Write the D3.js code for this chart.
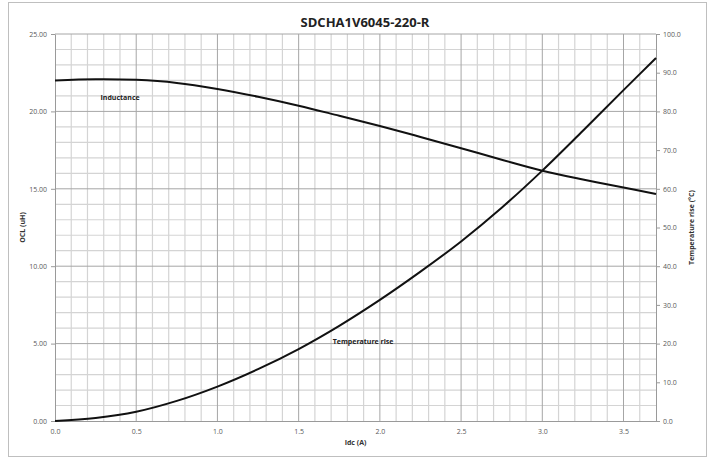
<!DOCTYPE html>
<html>
<head>
<meta charset="utf-8">
<script src="https://cdn.jsdelivr.net/npm/d3@7"></script>
<style>
  body { margin: 0; background: #fff; }
  text { font-family: "Open Sans", "Liberation Sans", sans-serif; }
</style>
</head>
<body>
<div id="chart"></div>
<script>
// current (A) sampled along both curves
const idc = [0, 0.25, 0.5, 0.75, 1.0, 1.25, 1.5, 1.75, 2.0, 2.25, 2.5, 2.75, 3.0, 3.25, 3.5, 3.7];
// OCL (uH)
const inductance = [22.0, 22.08, 22.04, 21.84, 21.45, 20.95, 20.37, 19.72, 19.06, 18.35, 17.62, 16.88, 16.17, 15.6, 15.08, 14.66];
// temperature rise (°C)
const tempRise = [0, 0.8, 2.4, 5.2, 8.9, 13.4, 18.6, 24.6, 31.3, 38.6, 46.4, 55.1, 64.7, 75.0, 85.5, 93.8];

const leftTicks = [0, 5, 10, 15, 20, 25];
const rightTicks = [0, 10, 20, 30, 40, 50, 60, 70, 80, 90, 100];
const xTicks = [0, 0.5, 1.0, 1.5, 2.0, 2.5, 3.0, 3.5];

const width = 713, height = 458;
const m = { left: 55, right: 57, top: 34, bottom: 37 };
const pw = width - m.left - m.right, ph = height - m.top - m.bottom;

const svg = d3.select("#chart").append("svg")
    .attr("width", width)
    .attr("height", height);

// outer frame
svg.append("rect")
    .attr("x", 8.5).attr("y", 2.5)
    .attr("width", 698).attr("height", 454)
    .attr("fill", "#fff")
    .attr("stroke", "#bfbfbf");

svg.append("text")
    .attr("x", 365).attr("y", 27)
    .attr("text-anchor", "middle")
    .attr("font-size", 13)
    .attr("font-weight", "bold")
    .attr("fill", "#222")
    .text("SDCHA1V6045-220-R");

const g = svg.append("g").attr("transform", `translate(${m.left},${m.top})`);

const x = d3.scaleLinear().domain([0, 3.7]).range([0, pw]);
const yL = d3.scaleLinear().domain([0, 25]).range([ph, 0]);
const yR = d3.scaleLinear().domain([0, 100]).range([ph, 0]);

// minor grid
g.append("g").selectAll("line")
    .data(d3.range(1, 37).map(i => i / 10).filter(v => Math.round(v * 10) % 5 !== 0))
    .join("line")
    .attr("x1", d => x(d)).attr("x2", d => x(d))
    .attr("y1", 0).attr("y2", ph)
    .attr("stroke", "#d4d4d4").attr("stroke-width", 1.2);

g.append("g").selectAll("line")
    .data(d3.range(1, 25).filter(v => v % 5 !== 0))
    .join("line")
    .attr("x1", 0).attr("x2", pw)
    .attr("y1", d => yL(d)).attr("y2", d => yL(d))
    .attr("stroke", "#d4d4d4").attr("stroke-width", 1.2);

// major grid
g.append("g").selectAll("line")
    .data(xTicks.slice(1))
    .join("line")
    .attr("x1", d => x(d)).attr("x2", d => x(d))
    .attr("y1", 0).attr("y2", ph)
    .attr("stroke", "#a6a6a6").attr("stroke-width", 1);

g.append("g").selectAll("line")
    .data(leftTicks.slice(1))
    .join("line")
    .attr("x1", 0).attr("x2", pw)
    .attr("y1", d => yL(d)).attr("y2", d => yL(d))
    .attr("stroke", "#a6a6a6").attr("stroke-width", 1);

// axes
const axisStyle = sel => {
    sel.select(".domain").attr("stroke", "#9a9a9a");
    sel.selectAll(".tick line").attr("stroke", "#9a9a9a");
    sel.selectAll(".tick text")
        .attr("fill", "#595959")
        .attr("font-size", 7)
        .attr("font-family", "'Open Sans', 'Liberation Sans', sans-serif");
};

g.append("g")
    .attr("transform", `translate(0,${ph})`)
    .call(d3.axisBottom(x).tickValues(xTicks).tickFormat(d3.format(".1f")).tickSize(0).tickPadding(8))
    .call(axisStyle);

g.append("g")
    .call(d3.axisLeft(yL).tickValues(leftTicks).tickFormat(d3.format(".2f")).tickSize(4).tickPadding(4).tickSizeOuter(0))
    .call(axisStyle);

g.append("g")
    .attr("transform", `translate(${pw},0)`)
    .call(d3.axisRight(yR).tickValues(rightTicks).tickFormat(d3.format(".1f")).tickSize(4).tickPadding(3).tickSizeOuter(0))
    .call(axisStyle);

// curves
const indLine = d3.line()
    .x((d, i) => x(idc[i]))
    .y(d => yL(d))
    .curve(d3.curveCatmullRom.alpha(0.5));

const tempLine = d3.line()
    .x((d, i) => x(idc[i]))
    .y(d => yR(d))
    .curve(d3.curveCatmullRom.alpha(0.5));

g.append("path")
    .datum(inductance)
    .attr("d", indLine)
    .attr("fill", "none")
    .attr("stroke", "#111")
    .attr("stroke-width", 2);

g.append("path")
    .datum(tempRise)
    .attr("d", tempLine)
    .attr("fill", "none")
    .attr("stroke", "#111")
    .attr("stroke-width", 2);

// series labels
g.append("text")
    .attr("x", x(0.28)).attr("y", yL(20.75))
    .attr("font-size", 7).attr("font-weight", "bold").attr("fill", "#222")
    .text("Inductance");

g.append("text")
    .attr("x", x(1.71)).attr("y", yR(19.8))
    .attr("font-size", 7).attr("font-weight", "bold").attr("fill", "#222")
    .text("Temperature rise");

// axis titles
svg.append("text")
    .attr("x", m.left + pw / 2).attr("y", 445)
    .attr("text-anchor", "middle")
    .attr("font-size", 7).attr("font-weight", "bold").attr("fill", "#333")
    .text("Idc (A)");

svg.append("text")
    .attr("transform", `translate(25,${m.top + ph / 2}) rotate(-90)`)
    .attr("text-anchor", "middle")
    .attr("font-size", 7).attr("font-weight", "bold").attr("fill", "#333")
    .text("OCL (uH)");

svg.append("text")
    .attr("transform", `translate(694,${m.top + ph / 2}) rotate(-90)`)
    .attr("text-anchor", "middle")
    .attr("font-size", 7).attr("font-weight", "bold").attr("fill", "#333")
    .text("Temperature rise (°C)");
</script>
</body>
</html>
